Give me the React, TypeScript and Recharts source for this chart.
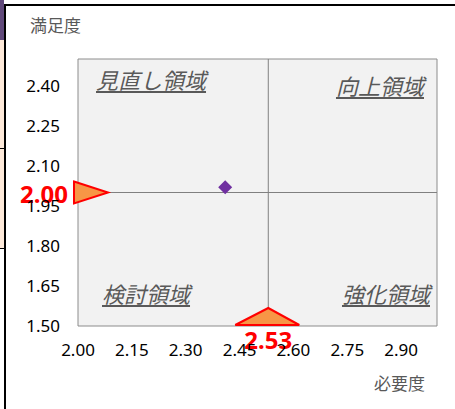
import React from 'react';
import { ScatterChart, Scatter, XAxis, YAxis, ReferenceLine, ReferenceArea } from 'recharts';

// axis settings
const xDomain = [2.0, 3.0];
const yDomain = [1.5, 2.5];
const xTicks = [2.0, 2.15, 2.3, 2.45, 2.6, 2.75, 2.9];
const yTicks = [1.5, 1.65, 1.8, 1.95, 2.1, 2.25, 2.4];

// averages (quadrant split lines)
const avgNeed = 2.53;
const avgSatisfaction = 2.0;

// the plotted item
const points = [{ x: 2.41, y: 2.02 }];

// markers on the axes
const satisfactionMarker = [{ x: xDomain[0], y: avgSatisfaction }];
const needMarker = [{ x: avgNeed, y: yDomain[0] }];

const quadrantNames = ['見直し領域', '向上領域', '検討領域', '強化領域'];

const numFont = '"Noto Sans", sans-serif';
const jpFont = '"Noto Sans CJK JP", sans-serif';

const Diamond = (props: any) => {
  const { cx, cy } = props;
  return (
    <polygon
      points={`${cx},${cy - 7} ${cx + 7},${cy} ${cx},${cy + 7} ${cx - 7},${cy}`}
      fill="#7030a0"
    />
  );
};

const RightTriangle = (props: any) => {
  const { cx, cy, payload } = props;
  return (
    <g>
      <polygon
        points={`${cx - 4},${cy - 11} ${cx + 30},${cy} ${cx - 4},${cy + 11}`}
        fill="#f79646"
        stroke="#ff0000"
        strokeWidth={2}
      />
      <text
        x={cx - 10}
        y={cy + 1}
        textAnchor="end"
        dominantBaseline="central"
        fill="#ff0000"
        fontWeight="bold"
        fontSize={24}
        fontFamily={numFont}
      >
        {payload.y.toFixed(2)}
      </text>
    </g>
  );
};

const UpTriangle = (props: any) => {
  const { cx, cy, payload } = props;
  return (
    <g>
      <polygon
        points={`${cx - 33},${cy - 1} ${cx},${cy - 18} ${cx + 31},${cy - 1}`}
        fill="#f79646"
        stroke="#ff0000"
        strokeWidth={2}
      />
      <text
        x={cx}
        y={cy + 13}
        textAnchor="middle"
        dominantBaseline="central"
        fill="#ff0000"
        fontWeight="bold"
        fontSize={24}
        fontFamily={numFont}
      >
        {payload.x.toFixed(2)}
      </text>
    </g>
  );
};

const quadStyle: React.CSSProperties = {
  position: 'absolute',
  fontFamily: jpFont,
  fontSize: 22,
  fontStyle: 'italic',
  textDecoration: 'underline',
  color: '#595959',
  lineHeight: '24px',
  whiteSpace: 'nowrap',
};

const titleStyle: React.CSSProperties = {
  position: 'absolute',
  fontFamily: jpFont,
  fontSize: 17,
  color: '#595959',
  lineHeight: '20px',
  whiteSpace: 'nowrap',
};

export default function App() {
  return (
    <div style={{ position: 'absolute', left: 0, top: 0, width: 455, height: 409, background: '#fff', overflow: 'hidden' }}>
      {/* sheet edge */}
      <div style={{ position: 'absolute', left: 0, top: 0, width: 4, height: 40, background: '#60497a' }} />
      <div style={{ position: 'absolute', left: 0, top: 40, width: 4, height: 208, background: '#fde9d9' }} />
      <div style={{ position: 'absolute', left: 0, top: 148, width: 4, height: 1, background: '#000' }} />
      <div style={{ position: 'absolute', left: 0, top: 248, width: 4, height: 1, background: '#000' }} />
      <div style={{ position: 'absolute', left: 4, top: 4, width: 451, height: 2, background: '#000' }} />
      <div style={{ position: 'absolute', left: 4, top: 4, width: 2, height: 405, background: '#000' }} />

      <div style={{ position: 'absolute', left: 0, top: 0 }}>
        <ScatterChart width={455} height={409} margin={{ top: 59, right: 18, bottom: 53, left: 8 }}>
          <XAxis
            type="number"
            dataKey="x"
            domain={xDomain}
            ticks={xTicks}
            interval={0}
            tickFormatter={(v: number) => v.toFixed(2)}
            axisLine={false}
            tickLine={false}
            tickSize={0}
            tickMargin={18}
            height={30}
            tick={{ fontSize: 17, fill: '#000', fontFamily: numFont }}
          />
          <YAxis
            type="number"
            dataKey="y"
            domain={yDomain}
            ticks={yTicks}
            interval={0}
            tickFormatter={(v: number) => v.toFixed(2)}
            axisLine={false}
            tickLine={false}
            tickSize={0}
            tickMargin={18}
            width={70}
            tick={{ fontSize: 17, fill: '#000', fontFamily: numFont }}
          />
          <ReferenceArea
            x1={xDomain[0]}
            x2={xDomain[1]}
            y1={yDomain[0]}
            y2={yDomain[1]}
            fill="#f2f2f2"
            fillOpacity={1}
            stroke="#8c8c8c"
            strokeWidth={1}
          />
          <ReferenceLine x={avgNeed} stroke="#808080" strokeWidth={1} />
          <ReferenceLine y={avgSatisfaction} stroke="#808080" strokeWidth={1} />
          <Scatter data={points} shape={Diamond} isAnimationActive={false} />
          <Scatter data={satisfactionMarker} shape={RightTriangle} isAnimationActive={false} />
          <Scatter data={needMarker} shape={UpTriangle} isAnimationActive={false} />
        </ScatterChart>
      </div>

      <div style={{ ...titleStyle, left: 30, top: 15 }}>満足度</div>
      <div style={{ ...titleStyle, left: 374, top: 373 }}>必要度</div>

      <div style={{ ...quadStyle, left: 96, top: 67 }}>{quadrantNames[0]}</div>
      <div style={{ ...quadStyle, right: 455 - 424, top: 73 }}>{quadrantNames[1]}</div>
      <div style={{ ...quadStyle, left: 102, top: 281 }}>{quadrantNames[2]}</div>
      <div style={{ ...quadStyle, right: 455 - 430, top: 281 }}>{quadrantNames[3]}</div>
    </div>
  );
}
